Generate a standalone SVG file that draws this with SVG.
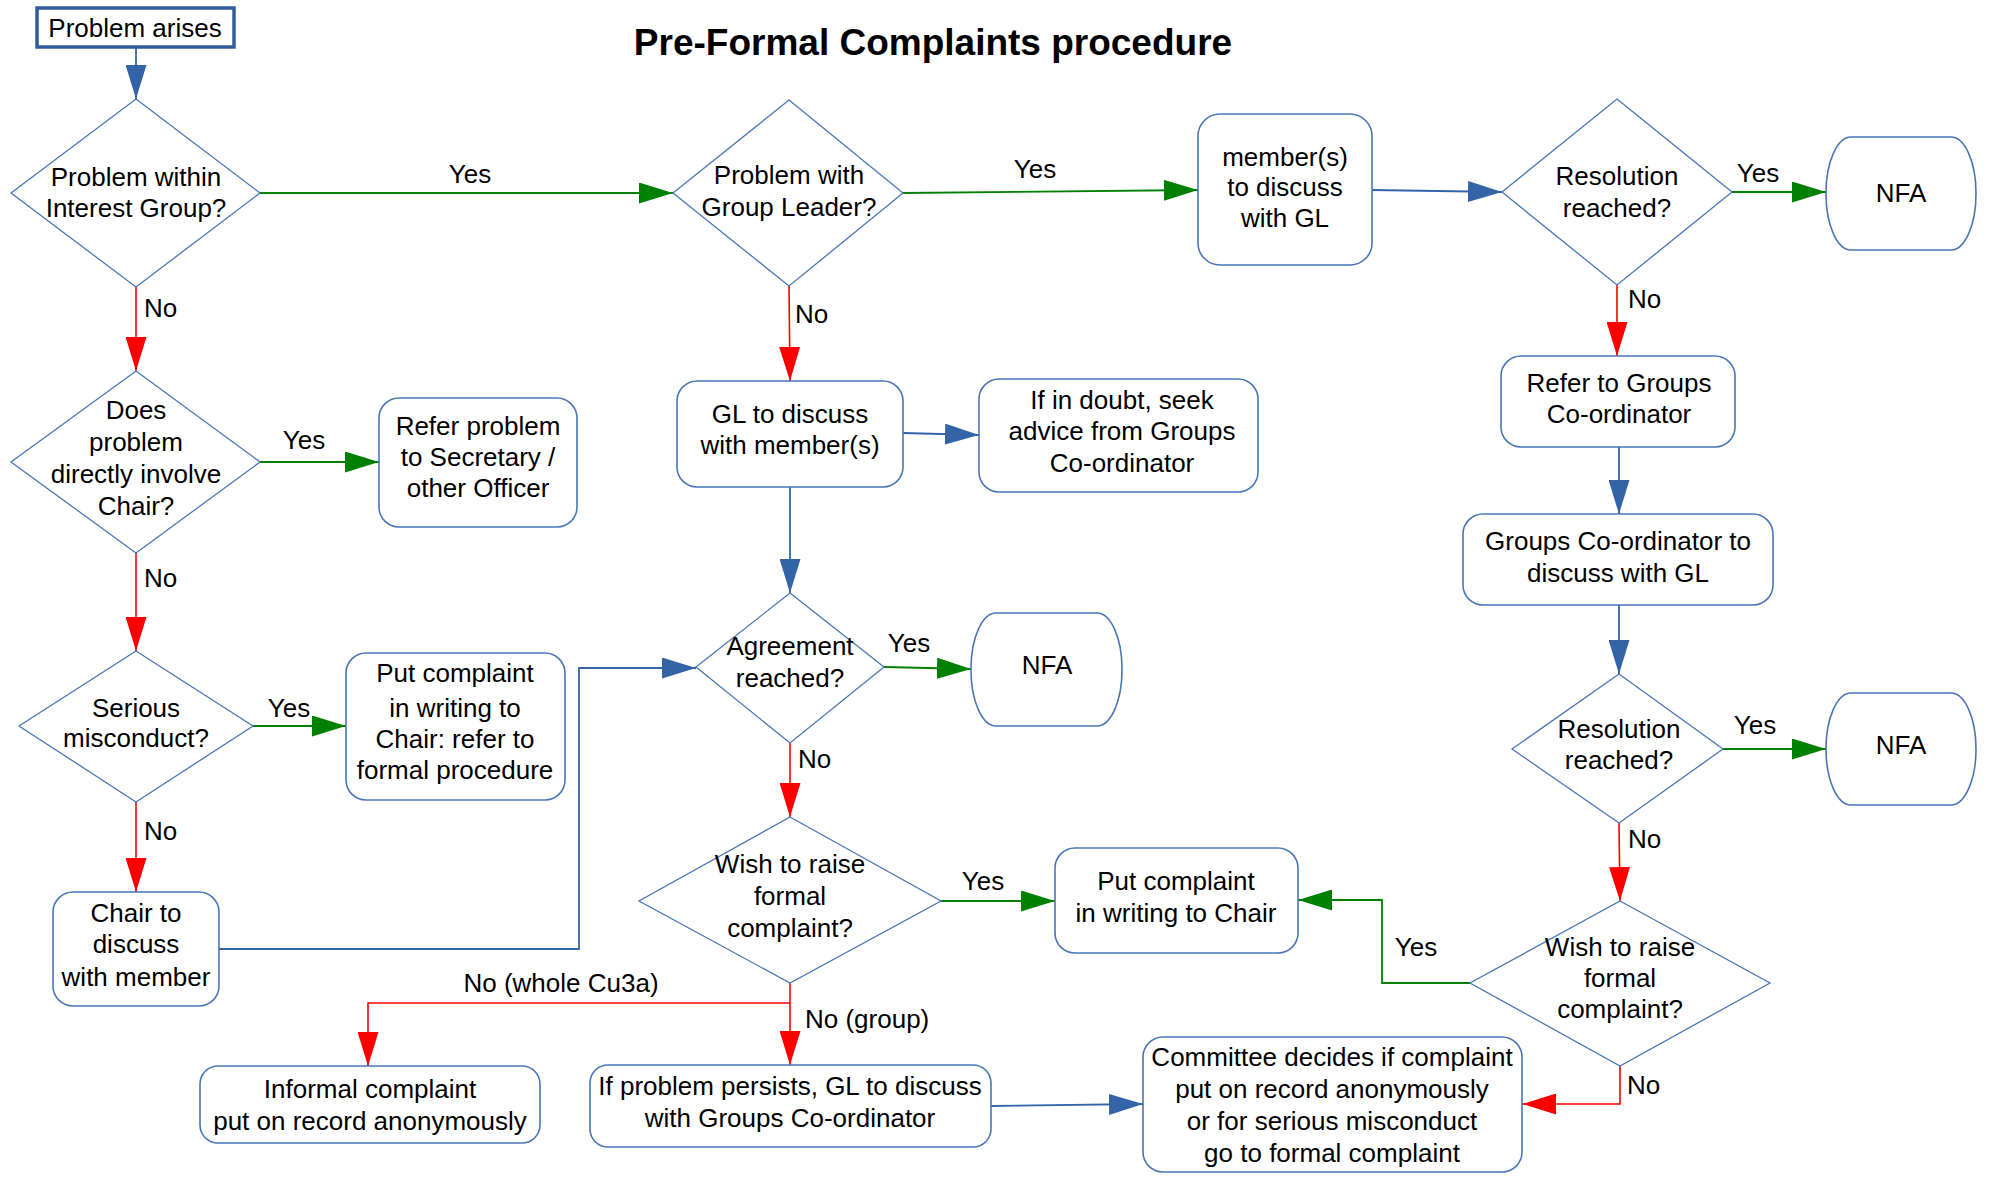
<svg xmlns="http://www.w3.org/2000/svg" width="1990" height="1178" viewBox="0 0 1990 1178">
<style>
text{font-family:"Liberation Sans",Arial,sans-serif;font-size:26px;fill:#000}
.title{font-size:37px;font-weight:bold}
.c{text-anchor:middle}
.box{fill:#fff;stroke:#4A76B8;stroke-width:1.6}
.dia{fill:#fff;stroke:#4A76B8;stroke-width:1.3}
.start{fill:#fff;stroke:#2F5E9E;stroke-width:3.5}
.cb{fill:none;stroke:#3464A8;stroke-width:1.8;marker-end:url(#ab)}
.cg{fill:none;stroke:#008000;stroke-width:1.8;marker-end:url(#ag)}
.cr{fill:none;stroke:#FF0000;stroke-width:1.6;marker-end:url(#ar)}
</style>
<defs>
<marker id="ab" markerUnits="userSpaceOnUse" markerWidth="34" markerHeight="21" refX="34" refY="10.5" orient="auto" viewBox="0 0 34 21"><path d="M0,0 L34,10.5 L0,21 Z" fill="#3464A8"/></marker>
<marker id="ag" markerUnits="userSpaceOnUse" markerWidth="34" markerHeight="21" refX="34" refY="10.5" orient="auto" viewBox="0 0 34 21"><path d="M0,0 L34,10.5 L0,21 Z" fill="#008000"/></marker>
<marker id="ar" markerUnits="userSpaceOnUse" markerWidth="34" markerHeight="21" refX="34" refY="10.5" orient="auto" viewBox="0 0 34 21"><path d="M0,0 L34,10.5 L0,21 Z" fill="#FF0000"/></marker>
</defs>
<rect width="1990" height="1178" fill="#fff"/>
<text class="title c" x="933" y="55">Pre-Formal Complaints procedure</text>

<g id="connectors">
<path class="cb" d="M136,48 L136,99"/>
<path class="cg" d="M260,193 L673,193"/>
<path class="cr" d="M136,287 L136,371"/>
<path class="cg" d="M903,193 L1198,190"/>
<path class="cr" d="M789,286 L790,381"/>
<path class="cb" d="M1372,190 L1502,192"/>
<path class="cg" d="M1732,192 L1826,192"/>
<path class="cr" d="M1617,285 L1617,356"/>
<path class="cg" d="M260,462 L379,462"/>
<path class="cr" d="M136,553 L136,651"/>
<path class="cb" d="M903,433 L979,435"/>
<path class="cb" d="M790,487 L790,593"/>
<path class="cb" d="M1619,447 L1619,514"/>
<path class="cg" d="M253,726 L346,726"/>
<path class="cr" d="M136,802 L136,892"/>
<path class="cb" d="M219,949 L579,949 L579,668 L696,668"/>
<path class="cg" d="M884,667 L971,669"/>
<path class="cr" d="M790,743 L790,817"/>
<path class="cb" d="M1619,605 L1619,674"/>
<path class="cg" d="M1723,749 L1826,749"/>
<path class="cr" d="M1619,823 L1620,901"/>
<path class="cg" d="M941,901 L1055,901"/>
<path class="cr" d="M790,983 L790,1065"/>
<path class="cr" d="M790,1003 L368,1003 L368,1066"/>
<path class="cg" d="M1470,983 L1382,983 L1382,900 L1298,900"/>
<path class="cr" d="M1620,1066 L1620,1104 L1522,1104"/>
<path class="cb" d="M991,1106 L1143,1104"/>
<text class="c" x="470" y="183">Yes</text>
<text x="144" y="317">No</text>
<text class="c" x="1035" y="178">Yes</text>
<text x="795" y="323">No</text>
<text class="c" x="1758" y="182">Yes</text>
<text x="1628" y="308">No</text>
<text class="c" x="304" y="449">Yes</text>
<text x="144" y="587">No</text>
<text class="c" x="289" y="717">Yes</text>
<text x="144" y="840">No</text>
<text class="c" x="909" y="652">Yes</text>
<text x="798" y="768">No</text>
<text class="c" x="1755" y="734">Yes</text>
<text x="1628" y="848">No</text>
<text class="c" x="983" y="890">Yes</text>
<text class="c" x="561" y="992">No (whole Cu3a)</text>
<text x="805" y="1028">No (group)</text>
<text class="c" x="1416" y="956">Yes</text>
<text x="1627" y="1094">No</text>
</g>

<g id="start"><rect class="start" x="37" y="8" width="197" height="39"/><text class="c" x="135" y="37">Problem arises</text></g>
<g id="d-interest"><polygon class="dia" points="136,99 260,193 136,287 11,193"/><text class="c" x="136" y="186">Problem within</text><text class="c" x="136" y="217">Interest Group?</text></g>
<g id="d-gl"><polygon class="dia" points="789,100 903,193 789,286 673,193"/><text class="c" x="789" y="184">Problem with</text><text class="c" x="789" y="216">Group Leader?</text></g>
<g id="member-gl"><rect class="box" x="1198" y="114" width="174" height="151" rx="22"/><text class="c" x="1285" y="166">member(s)</text><text class="c" x="1285" y="196">to discuss</text><text class="c" x="1285" y="227">with GL</text></g>
<g id="d-res1"><polygon class="dia" points="1617,99 1732,192 1617,285 1502,192"/><text class="c" x="1617" y="185">Resolution</text><text class="c" x="1617" y="217">reached?</text></g>
<g id="nfa1"><rect class="box" x="1826" y="137" width="150" height="113" rx="25" ry="56"/><text class="c" x="1901" y="202">NFA</text></g>
<g id="d-chair"><polygon class="dia" points="136,371 260,462 136,553 11,462"/><text class="c" x="136" y="419">Does</text><text class="c" x="136" y="451">problem</text><text class="c" x="136" y="483">directly involve</text><text class="c" x="136" y="515">Chair?</text></g>
<g id="refer-secretary"><rect class="box" x="379" y="398" width="198" height="129" rx="20"/><text class="c" x="478" y="435">Refer problem</text><text class="c" x="478" y="466">to Secretary /</text><text class="c" x="478" y="497">other Officer</text></g>
<g id="gl-discuss"><rect class="box" x="677" y="381" width="226" height="106" rx="20"/><text class="c" x="790" y="423">GL to discuss</text><text class="c" x="790" y="454">with member(s)</text></g>
<g id="in-doubt"><rect class="box" x="979" y="379" width="279" height="113" rx="20"/><text class="c" x="1122" y="409">If in doubt, seek</text><text class="c" x="1122" y="440">advice from Groups</text><text class="c" x="1122" y="472">Co-ordinator</text></g>
<g id="refer-groups"><rect class="box" x="1501" y="356" width="234" height="91" rx="20"/><text class="c" x="1619" y="392">Refer to Groups</text><text class="c" x="1619" y="423">Co-ordinator</text></g>
<g id="gc-discuss"><rect class="box" x="1463" y="514" width="310" height="91" rx="20"/><text class="c" x="1618" y="550">Groups Co-ordinator to</text><text class="c" x="1618" y="582">discuss with GL</text></g>
<g id="d-serious"><polygon class="dia" points="136,651 253,726 136,802 19,726"/><text class="c" x="136" y="717">Serious</text><text class="c" x="136" y="747">misconduct?</text></g>
<g id="put-formal"><rect class="box" x="346" y="653" width="219" height="147" rx="20"/><text class="c" x="455" y="682">Put complaint</text><text class="c" x="455" y="717">in writing to</text><text class="c" x="455" y="748">Chair: refer to</text><text class="c" x="455" y="779">formal procedure</text></g>
<g id="d-agreement"><polygon class="dia" points="790,593 884,667 790,743 696,667"/><text class="c" x="790" y="655">Agreement</text><text class="c" x="790" y="687">reached?</text></g>
<g id="nfa3"><rect class="box" x="971" y="613" width="151" height="113" rx="25" ry="56"/><text class="c" x="1047" y="674">NFA</text></g>
<g id="d-res2"><polygon class="dia" points="1619,674 1723,749 1619,823 1512,749"/><text class="c" x="1619" y="738">Resolution</text><text class="c" x="1619" y="769">reached?</text></g>
<g id="nfa2"><rect class="box" x="1826" y="693" width="150" height="112" rx="25" ry="56"/><text class="c" x="1901" y="754">NFA</text></g>
<g id="chair-discuss"><rect class="box" x="53" y="892" width="166" height="114" rx="20"/><text class="c" x="136" y="922">Chair to</text><text class="c" x="136" y="953">discuss</text><text class="c" x="136" y="986">with member</text></g>
<g id="d-wish1"><polygon class="dia" points="790,817 941,901 790,983 639,901"/><text class="c" x="790" y="873">Wish to raise</text><text class="c" x="790" y="905">formal</text><text class="c" x="790" y="937">complaint?</text></g>
<g id="put-chair"><rect class="box" x="1055" y="848" width="243" height="105" rx="20"/><text class="c" x="1176" y="890">Put complaint</text><text class="c" x="1176" y="922">in writing to Chair</text></g>
<g id="d-wish2"><polygon class="dia" points="1620,901 1770,983 1620,1066 1470,983"/><text class="c" x="1620" y="956">Wish to raise</text><text class="c" x="1620" y="987">formal</text><text class="c" x="1620" y="1018">complaint?</text></g>
<g id="informal"><rect class="box" x="200" y="1066" width="340" height="77" rx="18"/><text class="c" x="370" y="1098">Informal complaint</text><text class="c" x="370" y="1130">put on record anonymously</text></g>
<g id="persists"><rect class="box" x="590" y="1065" width="401" height="82" rx="18"/><text class="c" x="790" y="1095">If problem persists, GL to discuss</text><text class="c" x="790" y="1127">with Groups Co-ordinator</text></g>
<g id="committee"><rect class="box" x="1143" y="1037" width="379" height="135" rx="20"/><text class="c" x="1332" y="1066">Committee decides if complaint</text><text class="c" x="1332" y="1098">put on record anonymously</text><text class="c" x="1332" y="1130">or for serious misconduct</text><text class="c" x="1332" y="1162">go to formal complaint</text></g>
</svg>
